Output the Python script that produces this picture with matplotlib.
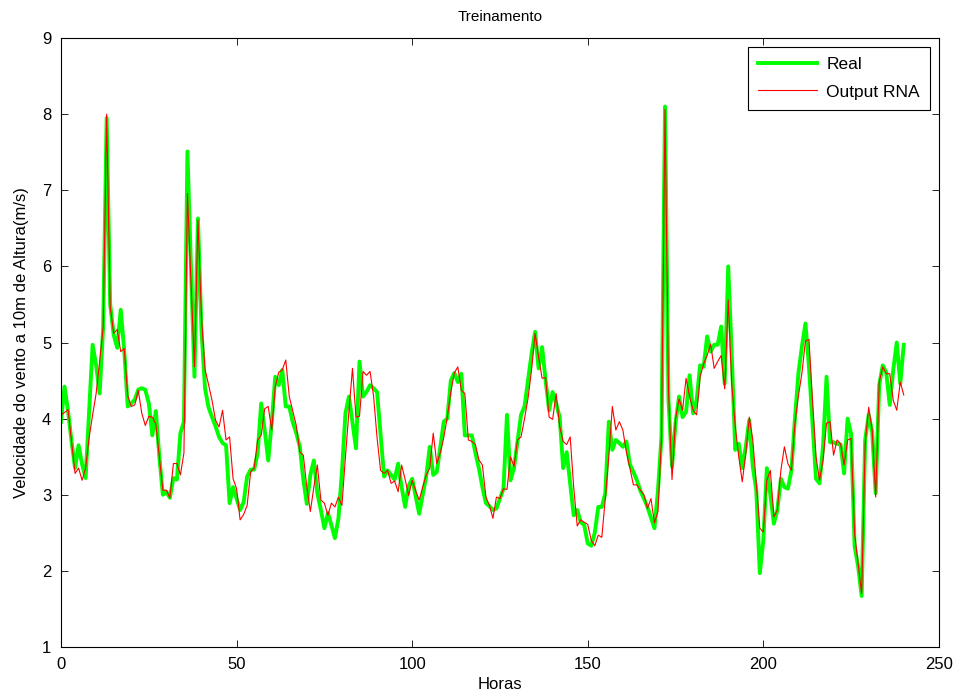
import matplotlib
matplotlib.use("Agg")
import matplotlib.pyplot as plt

plt.rcParams["font.family"] = ["Liberation Sans", "DejaVu Sans"]

# wind speed (m/s) per hour
real = [
    3.96, 4.42, 4.10, 3.70, 3.35, 3.65, 3.40, 3.22, 4.10, 4.97,
    4.70, 4.33, 5.20, 7.95, 5.50, 5.10, 4.93, 5.43, 4.90, 4.16,
    4.20, 4.25, 4.38, 4.40, 4.38, 4.20, 3.78, 4.10, 3.50, 3.00,
    3.04, 2.96, 3.22, 3.20, 3.81, 3.96, 7.51, 6.00, 4.55, 6.63,
    5.16, 4.40, 4.15, 4.02, 3.90, 3.76, 3.68, 3.65, 2.89, 3.10,
    2.95, 2.80, 2.90, 3.24, 3.33, 3.33, 3.55, 4.20, 3.85, 3.45,
    3.94, 4.55, 4.44, 4.64, 4.16, 4.16, 3.95, 3.81, 3.63, 3.20,
    2.88, 3.26, 3.45, 3.02, 2.80, 2.56, 2.76, 2.60, 2.43, 2.69,
    3.30, 4.07, 4.29, 3.95, 3.61, 4.75, 4.29, 4.35, 4.44, 4.40,
    4.35, 3.80, 3.24, 3.32, 3.26, 3.20, 3.41, 3.10, 2.84, 3.12,
    3.21, 2.98, 2.75, 3.00, 3.24, 3.63, 3.26, 3.30, 3.62, 3.96,
    4.00, 4.50, 4.60, 4.48, 4.59, 3.78, 3.78, 3.78, 3.55, 3.35,
    3.10, 2.89, 2.85, 2.80, 2.82, 2.95, 3.08, 4.05, 3.19, 3.35,
    3.70, 4.05, 4.16, 4.50, 4.85, 5.14, 4.66, 4.94, 4.50, 4.11,
    4.35, 4.20, 4.02, 3.35, 3.56, 3.15, 2.73, 2.80, 2.64, 2.60,
    2.36, 2.33, 2.50, 2.84, 2.84, 3.02, 3.96, 3.59, 3.72, 3.68,
    3.63, 3.70, 3.40, 3.30, 3.19, 3.05, 2.95, 2.84, 2.70, 2.56,
    3.06, 3.76, 8.10, 4.24, 3.37, 3.94, 4.29, 4.02, 4.09, 4.57,
    4.07, 4.24, 4.70, 4.68, 5.08, 4.88, 4.97, 4.97, 5.21, 4.46,
    6.00, 4.85, 3.59, 3.67, 3.35, 3.63, 3.98, 3.37, 3.06, 1.97,
    2.40, 3.35, 3.00, 2.62, 2.80, 3.21, 3.10, 3.08, 3.32, 4.00,
    4.60, 4.95, 5.25, 4.68, 3.95, 3.21, 3.15, 3.63, 4.55, 3.69,
    3.69, 3.67, 3.66, 3.28, 4.00, 3.80, 2.32, 2.06, 1.67, 3.72,
    4.05, 3.83, 3.02, 4.44, 4.70, 4.61, 4.18, 4.64, 5.00, 4.46,
    4.97,
]

output_rna = [
    4.05, 4.08, 4.12, 3.70, 3.28, 3.35, 3.19, 3.35, 3.75, 4.05,
    4.33, 4.75, 5.20, 8.00, 5.47, 5.12, 5.17, 4.88, 4.92, 4.30,
    4.16, 4.18, 4.37, 4.07, 3.91, 4.03, 4.02, 3.93, 3.50, 3.06,
    3.06, 2.96, 3.41, 3.41, 3.26, 3.55, 6.96, 5.80, 4.68, 6.61,
    5.33, 4.65, 4.45, 4.24, 3.98, 3.89, 4.11, 3.72, 3.76, 3.21,
    3.08, 2.67, 2.74, 2.86, 3.30, 3.35, 3.72, 3.78, 4.13, 4.16,
    3.85, 4.42, 4.61, 4.64, 4.77, 4.29, 4.10, 3.91, 3.56, 3.52,
    3.10, 2.78, 3.10, 3.39, 2.93, 2.89, 2.73, 2.89, 2.84, 2.97,
    2.86, 3.50, 4.10, 4.66, 4.02, 4.03, 4.62, 4.57, 4.62, 4.30,
    3.75, 3.32, 3.28, 3.32, 3.15, 3.18, 3.04, 3.39, 3.20, 2.99,
    3.19, 3.05, 2.93, 3.10, 3.26, 3.35, 3.81, 3.41, 3.55, 3.75,
    4.02, 4.35, 4.60, 4.68, 4.37, 4.33, 3.72, 3.70, 3.66, 3.46,
    3.39, 2.97, 2.86, 2.69, 2.97, 2.95, 3.08, 3.07, 3.50, 3.37,
    3.72, 3.76, 4.00, 4.27, 4.64, 5.12, 4.81, 4.53, 4.54, 4.02,
    3.99, 4.33, 3.90, 3.70, 3.66, 3.76, 3.10, 2.59, 2.67, 2.64,
    2.61, 2.40, 2.33, 2.47, 2.44, 2.95, 3.50, 4.16, 3.85, 3.96,
    3.85, 3.56, 3.35, 3.13, 3.13, 3.06, 3.00, 2.82, 2.95, 2.63,
    2.78, 3.76, 8.06, 4.37, 3.20, 4.00, 4.26, 4.11, 4.53, 4.29,
    4.11, 4.05, 4.55, 4.72, 4.83, 4.98, 4.66, 4.75, 4.83, 4.39,
    5.56, 4.46, 3.90, 3.50, 3.17, 3.54, 4.02, 3.72, 3.15, 2.56,
    2.51, 3.19, 3.32, 2.71, 2.80, 3.32, 3.63, 3.41, 3.32, 3.94,
    4.30, 4.60, 5.02, 5.04, 4.24, 3.50, 3.19, 3.45, 3.94, 3.96,
    3.52, 3.72, 3.67, 3.39, 3.72, 3.74, 2.49, 2.10, 1.70, 3.67,
    4.15, 3.85, 2.97, 4.48, 4.68, 4.59, 4.59, 4.24, 4.11, 4.48,
    4.31,
]

hours = list(range(len(real)))

fig = plt.figure(figsize=(9.61, 7.00), dpi=100)
ax = fig.add_axes([0.0635, 0.0757, 0.9135, 0.87])

ax.plot(hours, real, color="#00ff00", linewidth=2.8, label="Real")
ax.plot(hours, output_rna, color="#ff0000", linewidth=0.8, label="Output RNA")

ax.set_xlim(0, 250)
ax.set_ylim(1, 9)
ax.set_xticks(range(0, 251, 50))
ax.set_yticks(range(1, 10))
ax.tick_params(direction="in", top=True, right=True, labelsize=12,
               length=5, width=0.6, pad=7)
for sp in ax.spines.values():
    sp.set_linewidth(0.8)

ax.set_title("Treinamento", fontsize=11, pad=12)
ax.set_xlabel("Horas", fontsize=12, labelpad=4)
ax.set_ylabel("Velocidade do vento a 10m de Altura(m/s)", fontsize=12, labelpad=9)

leg = ax.legend(loc="upper right", fontsize=12.5, fancybox=False, framealpha=1,
                edgecolor="black", handlelength=3.4, borderaxespad=0.5,
                borderpad=0.6, labelspacing=0.7, handletextpad=0.5)
leg.get_frame().set_linewidth(0.8)

fig.savefig("out.png", dpi=100, facecolor="white")
